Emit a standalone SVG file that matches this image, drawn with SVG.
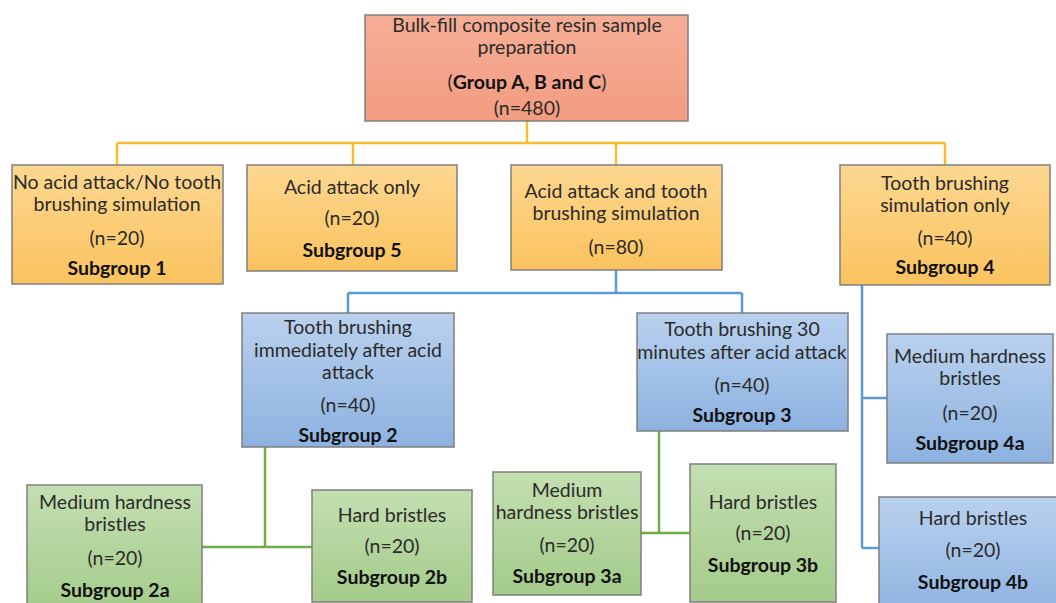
<svg xmlns="http://www.w3.org/2000/svg" width="1056" height="603" viewBox="0 0 1056 603">
<defs>
<linearGradient id="gRed" x1="0" y1="0" x2="0" y2="1"><stop offset="0" stop-color="#F6AE96"/><stop offset="1" stop-color="#F29C80"/></linearGradient>
<linearGradient id="gYel" x1="0" y1="0" x2="0" y2="1"><stop offset="0" stop-color="#FDD790"/><stop offset="1" stop-color="#FBC35F"/></linearGradient>
<linearGradient id="gBlu" x1="0" y1="0" x2="0" y2="1"><stop offset="0" stop-color="#B9D1EE"/><stop offset="1" stop-color="#8DB2E0"/></linearGradient>
<linearGradient id="gGrn" x1="0" y1="0" x2="0" y2="1"><stop offset="0" stop-color="#C3DFB1"/><stop offset="1" stop-color="#A3CB8A"/></linearGradient>
</defs>
<style>
.box{stroke:#7F7F7F;stroke-width:1.5}
.r{fill:url(#gRed)}.y{fill:url(#gYel)}.b{fill:url(#gBlu)}.g{fill:url(#gGrn)}
text{font-family:Lato,"Open Sans","Liberation Sans",sans-serif;font-size:19.5px;fill:#2B2B2B;text-anchor:middle}
.bd{font-weight:bold;fill:#111111}
.cy{stroke:#F5BE2F;stroke-width:2.5;fill:none}
.cb{stroke:#5B9BD5;stroke-width:2.5;fill:none}
.cg{stroke:#70AD47;stroke-width:2.5;fill:none}
</style>
<rect width="1056" height="603" fill="#FFFFFF"/>
<g id="connectors">
<path class="cy" d="M527 121V143M117 143H945M117 143V165M353 143V165M616 143V165M945 143V165"/>
<path class="cb" d="M616 270V293M348 293H742M348 293V313M742 293V313M862 285V548M862 398H887M862 548H879"/>
<path class="cg" d="M265 447V547M202 547H312M659 431V533M641 533H690"/>
</g>
<g id="root"><rect class="box r" x="365" y="15" width="323" height="106"/>
<text x="527" y="32">Bulk-fill composite resin sample</text><text x="527" y="54">preparation</text><text x="527" y="89">(<tspan class="bd">Group A, B and C</tspan>)</text><text x="527" y="115">(n=480)</text></g>
<g id="sub1"><rect class="box y" x="12" y="165" width="211" height="119"/>
<text x="117" y="189">No acid attack/No tooth</text><text x="117" y="211">brushing simulation</text><text x="117" y="245">(n=20)</text><text class="bd" x="117" y="275">Subgroup 1</text></g>
<g id="sub5"><rect class="box y" x="247" y="165" width="210" height="106"/>
<text x="352" y="194">Acid attack only</text><text x="352" y="225">(n=20)</text><text class="bd" x="352" y="257">Subgroup 5</text></g>
<g id="acidbrush"><rect class="box y" x="511" y="165" width="211" height="105"/>
<text x="616" y="198">Acid attack and tooth</text><text x="616" y="220">brushing simulation</text><text x="616" y="254">(n=80)</text></g>
<g id="sub4"><rect class="box y" x="840" y="165" width="210" height="120"/>
<text x="945" y="190">Tooth brushing</text><text x="945" y="212">simulation only</text><text x="945" y="245">(n=40)</text><text class="bd" x="945" y="274">Subgroup 4</text></g>
<g id="sub2"><rect class="box b" x="242" y="313" width="212" height="134"/>
<text x="348" y="334">Tooth brushing</text><text x="348" y="357">immediately after acid</text><text x="348" y="379">attack</text><text x="348" y="412">(n=40)</text><text class="bd" x="348" y="442">Subgroup 2</text></g>
<g id="sub3"><rect class="box b" x="637" y="313" width="211" height="118"/>
<text x="742" y="336">Tooth brushing 30</text><text x="742" y="359">minutes after acid attack</text><text x="742" y="392">(n=40)</text><text class="bd" x="742" y="422">Subgroup 3</text></g>
<g id="sub4a"><rect class="box b" x="887" y="334" width="166" height="129"/>
<text x="970" y="363">Medium hardness</text><text x="970" y="385">bristles</text><text x="970" y="420">(n=20)</text><text class="bd" x="970" y="450">Subgroup 4a</text></g>
<g id="sub4b"><rect class="box b" x="879" y="497" width="190" height="120"/>
<text x="973" y="525">Hard bristles</text><text x="973" y="557">(n=20)</text><text class="bd" x="973" y="589">Subgroup 4b</text></g>
<g id="sub2a"><rect class="box g" x="27" y="485" width="175" height="130"/>
<text x="115" y="509">Medium hardness</text><text x="115" y="531">bristles</text><text x="115" y="565">(n=20)</text><text class="bd" x="115" y="597">Subgroup 2a</text></g>
<g id="sub2b"><rect class="box g" x="312" y="490" width="160" height="112"/>
<text x="392" y="522">Hard bristles</text><text x="392" y="553">(n=20)</text><text class="bd" x="392" y="584">Subgroup 2b</text></g>
<g id="sub3a"><rect class="box g" x="493" y="472" width="148" height="123"/>
<text x="567" y="497">Medium</text><text x="567" y="519">hardness bristles</text><text x="567" y="552">(n=20)</text><text class="bd" x="567" y="583">Subgroup 3a</text></g>
<g id="sub3b"><rect class="box g" x="690" y="464" width="146" height="138"/>
<text x="763" y="509">Hard bristles</text><text x="763" y="540">(n=20)</text><text class="bd" x="763" y="572">Subgroup 3b</text></g>
</svg>
